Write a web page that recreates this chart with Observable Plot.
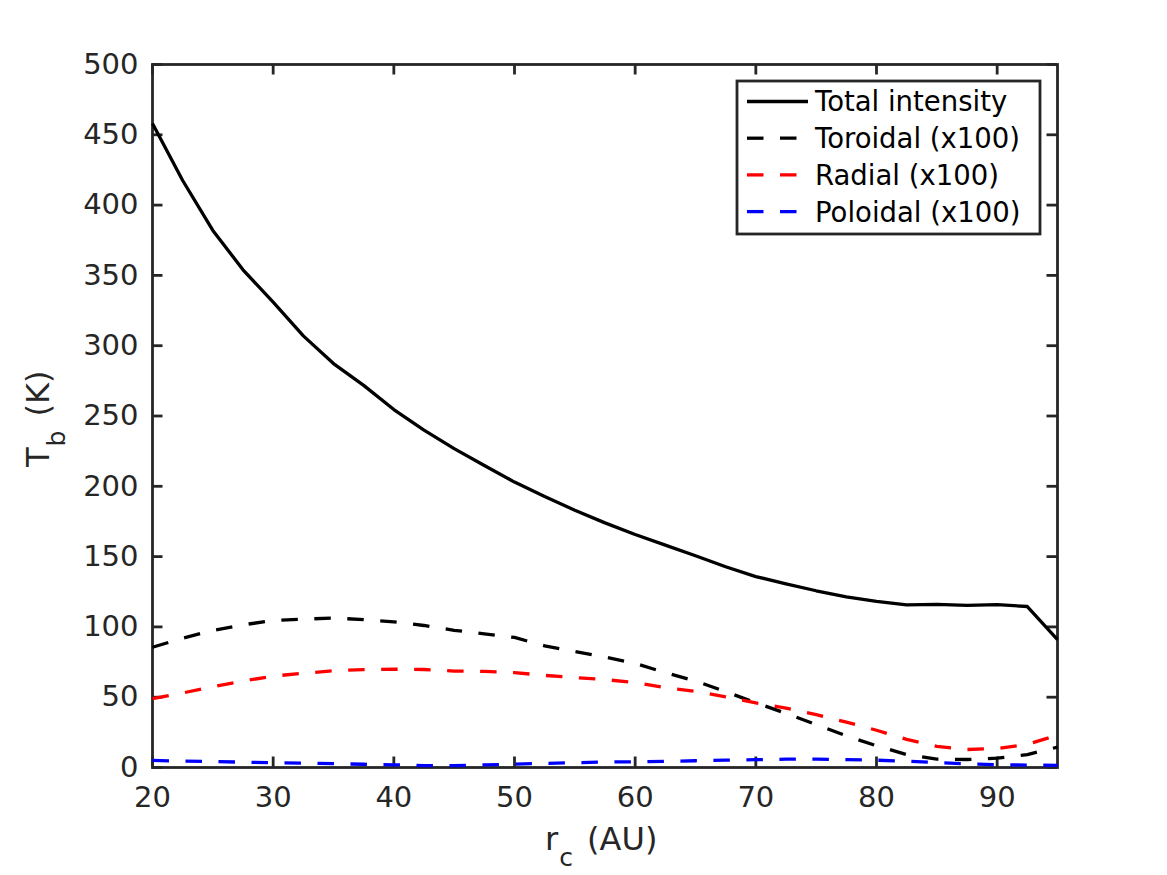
<!DOCTYPE html>
<html>
<head>
<meta charset="utf-8">
<script src="https://cdn.jsdelivr.net/npm/d3@7"></script>
<script src="https://cdn.jsdelivr.net/npm/@observablehq/plot@0.6"></script>
<style>
  html, body { margin: 0; padding: 0; background: #fff; }
  #chart { width: 1167px; height: 875px; }
</style>
</head>
<body>
<div id="chart"></div>
<script>
// radius (AU)
const rc = [20, 22.5, 25, 27.5, 30, 32.5, 35, 37.5, 40, 42.5, 45, 47.5, 50, 52.5, 55, 57.5,
            60, 62.5, 65, 67.5, 70, 72.5, 75, 77.5, 80, 82.5, 85, 87.5, 90, 92.5, 95];
// brightness temperatures (K)
const totalIntensity = [458, 417.5, 382, 354, 331, 307, 287.3, 271.8, 254.6, 240, 226.8, 214.8, 203, 192.7, 183, 174,
                        165.7, 158.2, 150.6, 142.8, 135.8, 130.6, 125.7, 121.3, 118.2, 115.7, 116, 115.3, 115.8, 114.5, 91];
const toroidal = [85.5, 92, 97.5, 101.5, 104.5, 105.5, 106.3, 105.2, 103.6, 101, 97.6, 95, 92.5, 86.5, 82.5, 78.5,
                  74, 67.5, 61.5, 54, 46, 38.5, 30.5, 22.5, 15.5, 9.2, 5.9, 5.7, 6.6, 9.2, 14.5];
const radial = [49, 53, 57.5, 61.5, 65, 67, 68.8, 69.6, 69.9, 69.7, 68.6, 68.3, 67.5, 65.5, 64, 62.5,
                60.5, 56.8, 54.2, 50.2, 45.9, 42.3, 37.6, 32.3, 26.5, 20, 15, 12.8, 13.5, 16.5, 23];
const poloidal = [5, 4.6, 4.2, 3.8, 3.4, 3.1, 2.7, 2.3, 1.9, 1.4, 1.4, 1.8, 2.4, 2.9, 3.4, 3.9,
                  4.0, 4.4, 4.8, 5.2, 5.6, 5.9, 5.9, 5.6, 5.2, 4.5, 3.5, 2.6, 2.0, 1.7, 1.5];

const xTicks = [20, 30, 40, 50, 60, 70, 80, 90];
const yTicks = [0, 50, 100, 150, 200, 250, 300, 350, 400, 450, 500];

const seriesNames = ["Total intensity", "Toroidal (x100)", "Radial (x100)", "Poloidal (x100)"];
const seriesColors = ["#000000", "#000000", "#ff0000", "#0000ff"];
const seriesDash = [null, "16.5,16.5", "16.5,16.5", "16.5,16.5"];
const seriesValues = [totalIntensity, toroidal, radial, poloidal];

const rows = seriesNames.map((name, i) => rc.map((r, j) => ({r, v: seriesValues[i][j], name})));

const W = 1167, H = 875;
const mL = 152, mR = 110, mT = 64, mB = 108;
const frameW = W - mL - mR, frameH = H - mT - mB;
const tickLen = 10.5;
const axisColor = "#262626";
const FONT = "DejaVu Sans";

const plot = Plot.plot({
  width: W,
  height: H,
  marginLeft: mL,
  marginRight: mR,
  marginTop: mT,
  marginBottom: mB,
  style: {fontFamily: FONT, fontSize: "29px", color: axisColor, background: "#fff", overflow: "visible"},
  x: {domain: [20, 95], label: null},
  y: {domain: [0, 500], label: null},
  marks: [
    Plot.axisX({ticks: xTicks, tickSize: 0, tickPadding: 19, fontSize: 29, label: null, anchor: "bottom", fill: axisColor}),
    Plot.axisY({ticks: yTicks, tickSize: 0, tickPadding: 14, fontSize: 29, label: null, anchor: "left", fill: axisColor}),
    // inward ticks on all four sides
    Plot.tickX(xTicks, {x: d => d, insetTop: frameH - tickLen, stroke: axisColor, strokeWidth: 2.8}),
    Plot.tickX(xTicks, {x: d => d, insetBottom: frameH - tickLen, stroke: axisColor, strokeWidth: 2.8}),
    Plot.tickY(yTicks, {y: d => d, insetRight: frameW - tickLen, stroke: axisColor, strokeWidth: 2.8}),
    Plot.tickY(yTicks, {y: d => d, insetLeft: frameW - tickLen, stroke: axisColor, strokeWidth: 2.8}),
    Plot.frame({stroke: axisColor, strokeWidth: 2.8}),
    ...seriesNames.map((name, i) =>
      Plot.line(rows[i], {x: "r", y: "v", stroke: seriesColors[i], strokeWidth: 3.3,
                          strokeDasharray: seriesDash[i], strokeLinejoin: "round", strokeLinecap: "butt"})
    )
  ]
});

document.getElementById("chart").appendChild(plot);

// Axis labels with subscripts and legend
const svg = d3.select(plot);

const xl = svg.append("text")
  .attr("x", 545).attr("y", 850)
  .attr("text-anchor", "start")
  .attr("fill", axisColor)
  .style("font-family", FONT).style("font-size", "32px");
xl.append("tspan").text("r");
xl.append("tspan").attr("dy", 16).attr("dx", 1).style("font-size", "25px").text("c");
xl.append("tspan").attr("dy", -16).attr("dx", 4).text("\u00a0(AU)");

const yl = svg.append("text")
  .attr("transform", "translate(49,467) rotate(-90)")
  .attr("text-anchor", "start")
  .attr("fill", axisColor)
  .style("font-family", FONT).style("font-size", "32px");
yl.append("tspan").text("T");
yl.append("tspan").attr("dy", 16).attr("dx", 1).style("font-size", "25px").text("b");
yl.append("tspan").attr("dy", -16).attr("dx", 4).text("\u00a0(K)");

const lg = svg.append("g");
lg.append("rect")
  .attr("x", 737).attr("y", 81).attr("width", 303).attr("height", 153)
  .attr("fill", "#fff").attr("stroke", axisColor).attr("stroke-width", 2.8);
seriesNames.forEach((name, i) => {
  const yy = 101.5 + i * 36.7;
  lg.append("line")
    .attr("x1", 747).attr("x2", 808).attr("y1", yy).attr("y2", yy)
    .attr("stroke", seriesColors[i]).attr("stroke-width", 3.3)
    .attr("stroke-dasharray", seriesDash[i]);
  lg.append("text")
    .attr("x", 815).attr("y", yy).attr("dy", "0.36em")
    .attr("text-anchor", "start")
    .attr("fill", "#000")
    .style("font-family", FONT).style("font-size", "27.5px")
    .text(name);
});
</script>
</body>
</html>
